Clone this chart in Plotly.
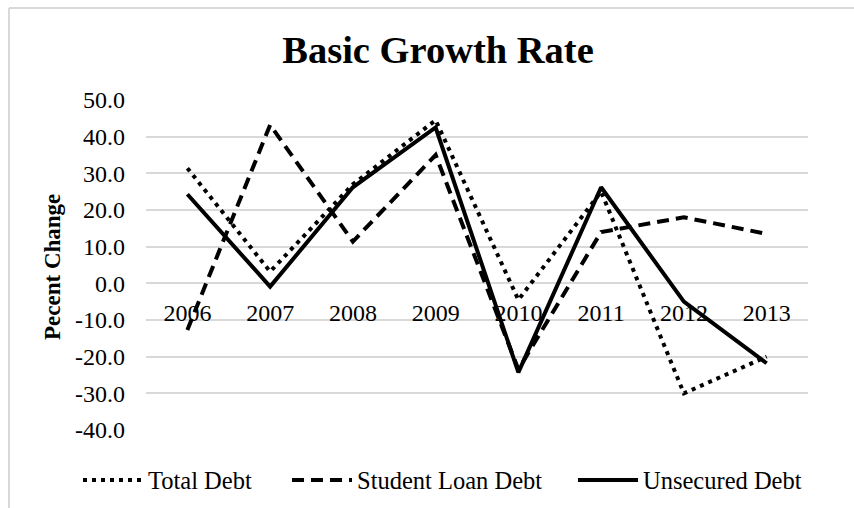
import plotly.graph_objects as go

years = ["2006", "2007", "2008", "2009", "2010", "2011", "2012", "2013"]
total_debt = [31.4, 3.2, 27.0, 44.5, -4.5, 25.0, -30.0, -20.0]
student_loan_debt = [-12.7, 43.2, 11.4, 35.0, -23.5, 14.0, 18.0, 13.5]
unsecured_debt = [24.3, -0.9, 26.2, 42.5, -24.3, 26.2, -5.0, -21.8]

y_ticks = [-40, -30, -20, -10, 0, 10, 20, 30, 40, 50]
y_tick_labels = ["-40.0", "-30.0", "-20.0", "-10.0", "0.0", "10.0", "20.0", "30.0", "40.0", "50.0"]

FONT = "Liberation Serif, Times New Roman, serif"
W, H = 854, 508
ML, MR, MT, MB = 146, 46, 100, 78

fig = go.Figure()
fig.add_trace(go.Scatter(x=years, y=total_debt, mode="lines", name="Total Debt", legend="legend",
                         line=dict(color="black", width=4, dash="4px,5px")))
fig.add_trace(go.Scatter(x=years, y=student_loan_debt, mode="lines", name="Student Loan Debt",
                         legend="legend2", line=dict(color="black", width=4, dash="12px,7px")))
fig.add_trace(go.Scatter(x=years, y=unsecured_debt, mode="lines", name="Unsecured Debt",
                         legend="legend3", line=dict(color="black", width=4)))

y0frac = (0 - (-40)) / (50 - (-40))

def leg(text_start):
    return dict(orientation="h", xref="container", yref="container", x=(text_start - 71) / W,
                xanchor="left", y=1 - 480 / H, yanchor="middle",
                font=dict(family=FONT, size=24.5, color="black"), itemwidth=60,
                bgcolor="rgba(0,0,0,0)")

fig.update_layout(
    width=W, height=H,
    margin=dict(l=ML, r=MR, t=MT, b=MB, autoexpand=False),
    paper_bgcolor="white", plot_bgcolor="white",
    font=dict(family=FONT, color="black"),
    title=dict(text="<b>Basic Growth Rate</b>", x=438 / W, xref="container", xanchor="center",
               y=1 - 50 / H, yref="container", yanchor="middle",
               font=dict(family=FONT, size=38.5, color="black")),
    xaxis=dict(type="category", range=[-0.5, len(years) - 0.5], anchor="free", position=y0frac,
               showgrid=False, showline=False, ticks="", zeroline=False, ticklabelstandoff=13,
               tickfont=dict(family=FONT, size=24, color="black")),
    yaxis=dict(range=[-40, 50], tickvals=y_ticks, ticktext=y_tick_labels,
               showgrid=True, gridcolor="#d9d9d9", gridwidth=1.5, zeroline=False,
               showline=False, ticks="", ticklabelstandoff=20,
               tickfont=dict(family=FONT, size=24, color="black")),
    legend=leg(149),
    legend2=leg(358),
    legend3=leg(644),
    showlegend=True,
)

fig.add_annotation(text="<b>Pecent Change</b>", textangle=-90, xref="paper", yref="paper",
                   x=0, y=(430 - 267) / 330, xanchor="center", yanchor="middle", xshift=-(ML - 52),
                   showarrow=False, font=dict(family=FONT, size=23, color="black"))

# chart border (top and left visible)
fig.add_shape(type="line", xref="paper", yref="paper",
              x0=(9 - ML) / (W - ML - MR), x1=(W - ML) / (W - ML - MR),
              y0=(H - MB - 8) / (H - MT - MB), y1=(H - MB - 8) / (H - MT - MB),
              line=dict(color="#d9d9d9", width=2))
fig.add_shape(type="line", xref="paper", yref="paper",
              x0=(9 - ML) / (W - ML - MR), x1=(9 - ML) / (W - ML - MR),
              y0=(H - MB - 8) / (H - MT - MB), y1=-MB / (H - MT - MB),
              line=dict(color="#d9d9d9", width=2))

fig.write_html("out.html")
